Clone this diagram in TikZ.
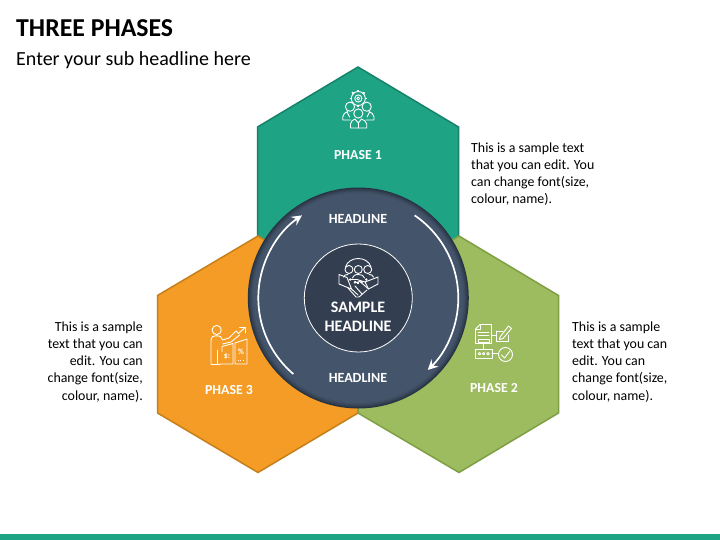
\documentclass[tikz,border=0pt]{standalone}
\usepackage{fontspec}
\setmainfont{Carlito}
\definecolor{teal1}{HTML}{1FA385}
\definecolor{teal2}{HTML}{17826A}
\definecolor{green1}{HTML}{9DBB5F}
\definecolor{green2}{HTML}{7F9F45}
\definecolor{orange1}{HTML}{F49C25}
\definecolor{orange2}{HTML}{C67F1B}
\definecolor{slate1}{HTML}{44546A}
\definecolor{slate2}{HTML}{273342}
\definecolor{slate3}{HTML}{333F50}
\usetikzlibrary{arrows.meta}
\tikzset{
 hexa/.style={line width=1.5pt,line join=miter},
 phase/.style={text=white,font=\fontsize{13.8}{15}\selectfont\bfseries,inner sep=0pt},
 head/.style={text=white,font=\fontsize{14}{15}\selectfont\bfseries,inner sep=0pt},
 body/.style={text=black,font=\fontsize{13.9}{17.2}\selectfont,inner sep=0pt},
 icon/.style={draw=white,line width=.9pt,line join=round,line cap=round},
 ringarrow/.style={draw=white,line width=1.7pt,-{Stealth[length=10pt,width=10pt,inset=3.5pt]}},
}
\begin{document}
\begin{tikzpicture}[x=1pt,y=-1pt]
\useasboundingbox (0,0) rectangle (720,540);
\fill[white] (0,0) rectangle (720,540);
\fill[teal1] (0,534) rectangle (720,540);
% hexagons
\draw[hexa,fill=teal1,draw=teal2] (358,67)--(458.5,127)--(458.5,246)--(358,306)--(257.5,246)--(257.5,127)--cycle;
\draw[hexa,fill=orange1,draw=orange2] (258,236)--(358,295.5)--(358,413)--(258,472.5)--(157.5,413)--(157.5,295.5)--cycle;
\draw[hexa,fill=green1,draw=green2] (459,236)--(558.5,295.5)--(558.5,413)--(459,472.5)--(358,413)--(358,295.5)--cycle;
% circles
\coordinate (c) at (358.3,298);
\fill[slate2] (c) circle[radius=110.5];
\fill[slate1!25!slate2] (c) circle[radius=109.5];
\fill[slate1!45!slate2] (c) circle[radius=108.5];
\fill[slate1!65!slate2] (c) circle[radius=107.5];
\fill[slate1!82!slate2] (c) circle[radius=106.5];
\fill[slate1!93!slate2] (c) circle[radius=105.5];
\fill[slate1] (c) circle[radius=104.5];
\draw[white,line width=.8pt,fill=slate3] (c) circle[radius=54];
\draw[ringarrow] (c) ++(55.7:100pt) arc[start angle=55.7,end angle=-46,radius=100pt];
\draw[ringarrow] (c) ++(229.5:100pt) arc[start angle=229.5,end angle=124.3,radius=100pt];
% titles
\node[anchor=west,inner sep=0pt,font=\fontsize{25.8}{28}\selectfont\bfseries] (title) at (16,28.5) {THREE PHASES};
\node[anchor=west,inner sep=0pt,font=\fontsize{20}{22}\selectfont] (sub) at (16,60) {Enter your sub headline here};
% labels
\node[phase] (p1) at (358,155.5) {PHASE 1};
\node[phase] (p2) at (494,388.5) {PHASE 2};
\node[phase] (p3) at (229,390.5) {PHASE 3};
\node[head] (h1) at (358,218.5) {HEADLINE};
\node[head] (h2) at (358,377.5) {HEADLINE};
\node[text=white,align=center,inner sep=0pt,font=\fontsize{16}{18.5}\selectfont\bfseries] (ctr) at (358,317) {SAMPLE\\HEADLINE};
\node[body,anchor=north west,align=left] (t1) at (471,142.5) {This is a sample text\\that you can edit. You\\can change font(size,\\colour, name).};
\node[body,anchor=north west,align=left] (t2) at (572,321.5) {This is a sample\\text that you can\\edit. You can\\change font(size,\\colour, name).};
\node[body,anchor=north east,align=right] (t3) at (143,321.5) {This is a sample\\text that you can\\edit. You can\\change font(size,\\colour, name).};
% icon phase 1
\begin{scope}[icon]
\foreach \a in {0,45,...,315} \draw[line width=1.8pt,line cap=butt] (358.3,98.5) ++(\a:6.5pt) -- ++(\a:2.2pt);
\draw (358.3,98.5) circle[radius=7];
\draw (358.3,98.5) circle[radius=3.6];
\draw (358.3,98.5) circle[radius=1.5];
\draw[fill=teal1] (350,106.7) circle[radius=4.6];
\draw[fill=teal1] (366.7,106.7) circle[radius=4.6];
\draw[fill=teal1] (358.3,113.5) circle[radius=4.6];
\draw (350.5,120) -- (342.7,120) -- (342.7,117) .. controls (342.7,114) and (345.5,112.5) .. (347.5,111.5);
\draw (366,120) -- (374,120) -- (374,117) .. controls (374,114) and (371,112.5) .. (369,111.5);
\draw (350.5,128) -- (350.5,124) .. controls (350.5,121) and (353,120) .. (355,119) -- (358.3,123) -- (361.5,119) .. controls (363.5,120) and (366.7,121) .. (366.7,124) -- (366.7,128) -- cycle;
\draw (358.3,123) -- (358.3,128);
\draw (347,112) -- (349.5,117);
\draw (369.5,112) -- (367,117);
\end{scope}
% icon phase 3
\begin{scope}[icon]
\draw (216.7,330) circle[radius=4.6];
\draw (211,364) -- (211,341) .. controls (211,337) and (213,335.8) .. (216.5,335.8) .. controls (220,335.8) and (222,337) .. (222.5,340) -- (229,338) -- (236,331) -- (238.5,333.5) -- (244.5,328);
\draw (239.5,327) -- (245.5,327) -- (245.5,333);
\draw (222.5,344) -- (231,342) -- (239.5,335);
\draw (217,350) -- (217,364) (211,364) -- (220,364);
\draw (222,346.5) -- (222,352) (220,364) -- (233,364) -- (233,343.5) -- (222,346.5);
\draw (235,343) -- (247,339) -- (247,364) -- (235,364) -- cycle;
\node[text=white,inner sep=0pt,font=\fontsize{8}{8}\selectfont\bfseries] (ds) at (227,356) {\$:};
\node[text=white,inner sep=0pt,font=\fontsize{8}{8}\selectfont\bfseries] (pc) at (241,351.5) {\%};
\draw[dash pattern=on .8pt off 1.6pt,line cap=butt] (238,360) -- (245,360);
\end{scope}
% icon phase 2
\begin{scope}[icon]
\draw (480,324.5) -- (491.5,324.5) -- (491.5,343.5) -- (475.5,343.5) -- (475.5,329) -- cycle;
\draw (475.5,329) -- (480,329) -- (480,324.5);
\draw (478,332) -- (489,332) (478,335) -- (489,335);
\draw (478,339) rectangle (489,342);
\draw (483,343.5) -- (483,349.5);
\draw (475.5,349.5) rectangle (492,358);
\foreach \x in {479.5,483.7,488} \draw (\x,353.7) circle[radius=1.2];
\draw (492,335) -- (496.5,335);
\draw (496.5,331) -- (496.5,341) -- (508,341) -- (508,335);
\draw (496.5,331) -- (503,331);
\draw (500,337) -- (508.5,326) -- (511.5,328.5) -- (503,338.5) -- (499.5,339.5) -- cycle;
\draw (492,353.7) -- (498.5,353.7);
\draw (505.5,354.5) circle[radius=7];
\draw (501.5,355) -- (504.5,358) -- (510,351);
\end{scope}
% icon centre
\begin{scope}[icon]
\draw (345.5,267) .. controls (347,262) and (352,258.5) .. (358.3,258.5) .. controls (364.5,258.5) and (369.5,262) .. (371,267);
\foreach \a in {-130,-105,-90,-75,-50} \draw[line width=1.8pt,line cap=butt] (358.3,270) ++(\a:11.5pt) -- ++(\a:2pt);
\draw[fill=slate3] (349,269.5) circle[radius=4];
\draw[fill=slate3] (367.7,269.5) circle[radius=4];
\draw[fill=slate3] (358.3,269.5) circle[radius=4];
\draw (343.5,277) .. controls (344,275) and (346,274.5) .. (348,274.5);
\draw (373.5,277) .. controls (373,275) and (371,274.5) .. (369,274.5);
\draw (352.5,278) .. controls (353,275.5) and (355,274.5) .. (358.3,274.5) .. controls (361.5,274.5) and (364,275.5) .. (364.5,278);
\draw (339,274.5) -- (347,277.5) -- (351.5,289) -- (347.5,287.5) -- (339,284) -- cycle;
\draw (378,277) -- (378,284) -- (368.5,289) -- (365,282) -- cycle;
\draw (349,279.5) -- (357,279.5) -- (365,282);
\draw (354,283) -- (360,281.5) -- (368.5,289);
\draw (348,288) -- (356,297) -- (359,297) -- (367,290);
\draw (351.5,289) -- (358,295) (355,286) -- (362,294);
\end{scope}
\end{tikzpicture}
\end{document}
